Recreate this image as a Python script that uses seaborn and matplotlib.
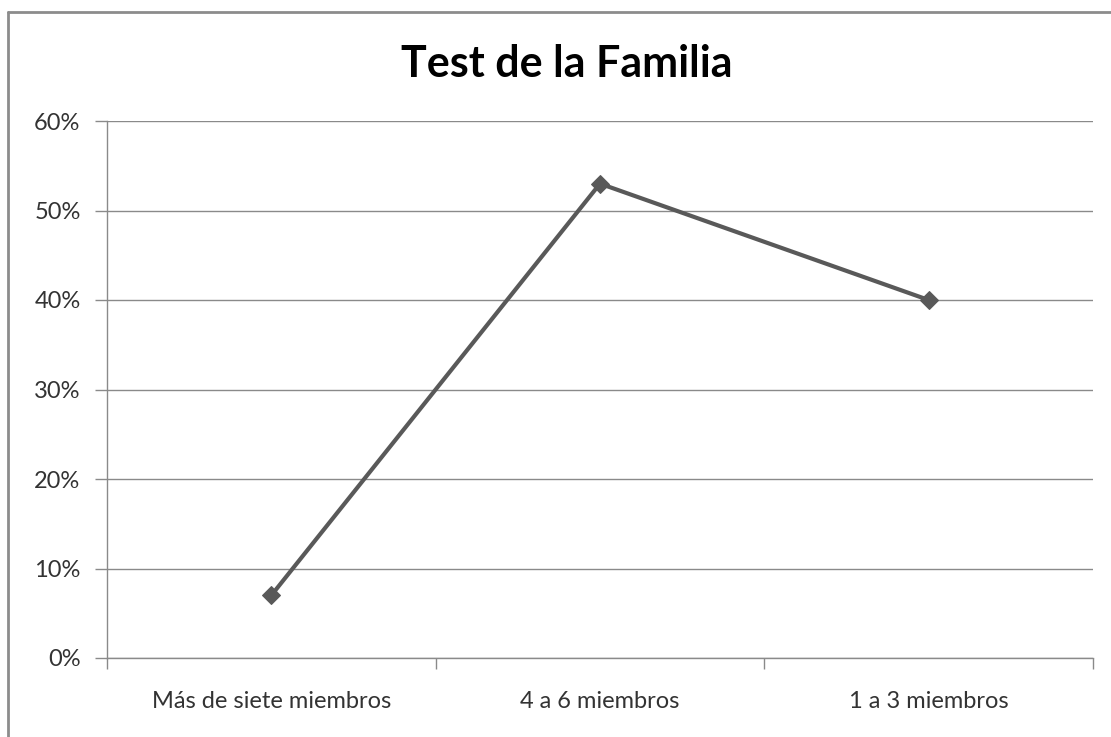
import matplotlib
matplotlib.use("Agg")
import matplotlib.pyplot as plt
import seaborn as sns
import pandas as pd
from matplotlib.ticker import PercentFormatter, FixedLocator

categories = ["Más de siete miembros", "4 a 6 miembros", "1 a 3 miembros"]
values = [0.07, 0.53, 0.40]
yticks = [0.0, 0.1, 0.2, 0.3, 0.4, 0.5, 0.6]
title = "Test de la Familia"

sns.set_style("white")
plt.rcParams['font.family'] = ['Lato', 'DejaVu Sans']

df = pd.DataFrame({"cat": categories, "val": values})

fig = plt.figure(figsize=(11.11, 7.37), dpi=100)
W, H = 1111, 737
ax = fig.add_axes([107 / W, 1 - 658 / H, (1093 - 107) / W, (658 - 121) / H])

# outer frame (top and left visible)
fig.add_artist(plt.Line2D([8 / W, 8 / W], [0, 1 - 12 / H], color="#8c8c8c", lw=2, transform=fig.transFigure))
fig.add_artist(plt.Line2D([8 / W, 1], [1 - 12 / H, 1 - 12 / H], color="#8c8c8c", lw=2, transform=fig.transFigure))

sns.lineplot(data=df, x="cat", y="val", ax=ax, color="#595959", linewidth=3,
             marker="D", markersize=9, markeredgecolor="#595959", sort=False)

ax.set_xlim(-0.5, 2.5)
ax.set_ylim(0, 0.6)
ax.set_yticks(yticks)
ax.yaxis.set_major_formatter(PercentFormatter(1.0, decimals=0))
ax.grid(axis="y", color="#8a8a8a", linewidth=1)
ax.set_axisbelow(True)

for s in ["top", "right"]:
    ax.spines[s].set_visible(False)
for s in ["left", "bottom"]:
    ax.spines[s].set_color("#8a8a8a")
    ax.spines[s].set_linewidth(1)

ax.set_xticks(range(len(categories)))
ax.set_xticklabels(categories)
ax.xaxis.set_minor_locator(FixedLocator([-0.5, 0.5, 1.5, 2.5]))
ax.tick_params(axis="x", which="major", length=0, pad=24, labelsize=17, labelcolor="#333333")
ax.tick_params(axis="x", which="minor", length=8, width=1, color="#8a8a8a", direction="out")
ax.tick_params(axis="y", which="major", length=9, width=1, color="#8a8a8a", direction="out",
               labelsize=17, labelcolor="#333333", pad=10)
ax.tick_params(axis="y", left=True)
ax.tick_params(axis="x", bottom=True, which="minor")

ax.set_xlabel("")
ax.set_ylabel("")

fig.text(567 / W, 1 - 64 / H, title, ha="center", va="center", fontsize=31,
         fontweight="bold", color="#000000")

fig.savefig("out.png", dpi=100, facecolor="white")
